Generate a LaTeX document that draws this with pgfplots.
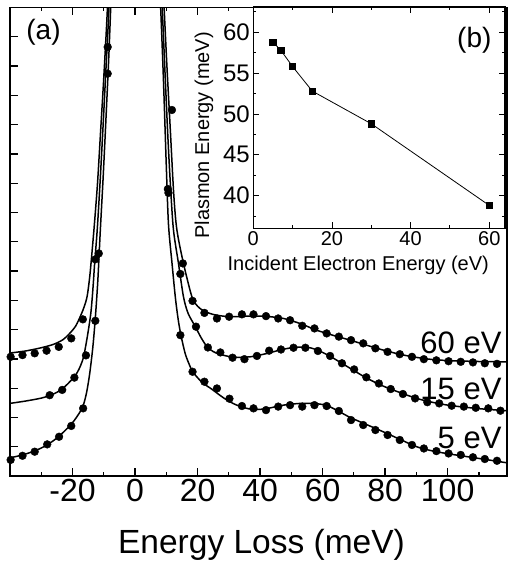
\documentclass[border=0pt]{standalone}
\usepackage{fontspec}
\setmainfont{Liberation Sans}
\usepackage{pgfplots}
\pgfplotsset{compat=1.18}
\newcommand{\fs}[1]{\fontsize{#1}{#1}\selectfont}

\begin{document}
\begin{tikzpicture}
% main panel (a)
\begin{axis}[
    at={(10pt,89pt)}, anchor=south west,
    scale only axis, width=497pt, height=468.5pt,
    xmin=-40, xmax=119, ymin=0, ymax=16,
    xtick={-20,0,...,100}, minor xtick={-30,-10,...,110},
    ytick={1,...,15}, yticklabels={},
    xtick pos=both, ytick pos=left,
    tick align=inside,
    major tick length=8pt, minor tick length=4pt,
    tick style={black, line width=1.3pt},
    axis line style={line width=1.8pt},
    tick label style={font=\fs{32}},
    /pgf/number format/assume math mode=true,
    xlabel={Energy Loss (meV)},
    xlabel style={font=\fs{33.5}, at={(axis description cs:0.506,-0.146)}, anchor=center},
]

% fits, 60 eV
\addplot[black, line width=1.5pt, smooth, no marks] coordinates {
    (-40,4.20) (-35,4.27) (-30,4.38) (-26,4.50) (-23,4.66) (-21,4.86) (-19,5.12)
    (-17.3,5.5) (-16.2,5.8) (-15.3,6.15) (-14.5,6.8) (-13.8,7.6) (-13.0,8.6)
    (-12.0,10.0) (-11.0,11.8) (-10.0,13.6) (-9.0,15.6) (-8.2,17.5)
};
\addplot[black, line width=1.5pt, smooth, no marks] coordinates {
    (8.6,17.5) (9.3,16) (10.2,14) (11.3,11.8) (12.4,9.6) (13.4,8.4) (15.5,7.26)
    (18.2,6.12) (20,5.8) (21.8,5.65) (24,5.55) (26.2,5.49) (30.4,5.44) (36.8,5.46)
    (42,5.45) (47.5,5.38) (53,5.2) (58.1,4.98) (63.5,4.8) (68.8,4.64) (74,4.47)
    (79.4,4.30) (85,4.15) (90.1,4.05) (95,3.98) (100.7,3.94) (110,3.91) (119,3.90)
};
% fits, 15 eV
\addplot[black, line width=1.5pt, smooth, no marks] coordinates {
    (-40,2.48) (-35,2.56) (-30,2.66) (-27,2.76) (-24,2.92) (-21.5,3.15) (-19,3.45)
    (-17.5,3.75) (-16.4,4.1) (-15.2,4.8) (-14.1,5.6) (-13.4,6.5) (-12.9,7.3)
    (-12.1,8.4) (-11.2,10.0) (-10.3,11.8) (-9.4,13.7) (-8.5,15.6) (-7.8,17.5)
};
\addplot[black, line width=1.5pt, smooth, no marks] coordinates {
    (8.1,17.5) (8.7,16) (9.5,14) (10.5,11.6) (11.4,9.8) (12.3,8.4) (13.9,7.26)
    (15.5,6.12) (17,5.55) (19.3,5.1) (21,4.75) (23,4.42) (25,4.25) (27.3,4.15)
    (31.5,4.06) (36.8,4.07) (42,4.18) (47.5,4.33) (52,4.40) (56,4.38) (60,4.22)
    (63.5,4.02) (68.8,3.68) (74,3.35) (79.4,3.07) (85,2.84) (90.1,2.65) (95,2.52)
    (100.7,2.41) (110,2.30) (119,2.23)
};
% fits, 5 eV
\addplot[black, line width=1.5pt, smooth, no marks] coordinates {
    (-40,0.62) (-36,0.72) (-32,0.86) (-28,1.07) (-24.3,1.36) (-20.4,1.77) (-18,2.12)
    (-16.6,2.4) (-15.5,2.85) (-14.5,3.5) (-13.5,4.4) (-12.7,5.4) (-12.0,6.5)
    (-11.6,7.3) (-11.1,8.4) (-10.2,10.2) (-9.3,12.2) (-8.4,14.3) (-7.6,16.5) (-7.2,17.5)
};
\addplot[black, line width=1.5pt, smooth, no marks] coordinates {
    (7.6,17.5) (8.2,16) (9.1,13.5) (10.0,10.6) (10.7,8.6) (11.8,7.3) (12.9,6.1)
    (13.8,5.35) (14.7,4.8) (16,4.2) (17,3.9) (18.4,3.57) (20.5,3.3) (22,3.15)
    (24.1,3.0) (26,2.85) (28.3,2.67) (31.5,2.47) (34.7,2.34) (38,2.27) (42,2.3)
    (47.5,2.42) (53,2.48) (58.1,2.47) (61.5,2.40) (65,2.22) (68.8,2.0) (74,1.76)
    (79.4,1.51) (85,1.24) (90.1,1.00) (95,0.86) (100.7,0.75) (110,0.60) (119,0.45)
};

% measured points
\addplot[only marks, mark=*, mark size=3.9pt, black] coordinates {
    (-39.8,4.07) (-36.0,4.13) (-32.1,4.19) (-28.3,4.28) (-24.4,4.41) (-20.4,4.70)
    (-16.7,5.35) (-8.75,14.65)
    (10.5,9.8) (14.5,6.9) (18.4,5.98) (22.2,5.57) (26.2,5.38) (30.1,5.44) (34.2,5.52)
    (37.9,5.52) (41.9,5.46) (45.8,5.38) (49.6,5.32) (53.5,5.13) (57.4,5.04)
    (61.3,4.87) (65.2,4.76) (69.1,4.64) (73.0,4.53) (76.9,4.36) (80.8,4.24)
    (84.7,4.16) (88.6,4.07) (92.4,3.99) (96.4,3.95) (100.3,3.92) (104.2,3.90)
    (108.1,3.88) (111.9,3.85) (115.8,3.83)
};
\addplot[only marks, mark=*, mark size=3.9pt, black] coordinates {
    (-27.3,2.76) (-23.3,2.94) (-19.4,3.36) (-15.7,4.12) (-12.7,7.4) (-8.75,13.74)
    (11.8,12.5) (15.3,7.26) (19.5,5.10) (23.3,4.39) (27.3,4.22) (31.2,4.04)
    (35.0,3.99) (39.0,4.10) (42.9,4.28) (46.7,4.32) (50.7,4.38) (54.5,4.38)
    (58.5,4.27) (62.4,4.10) (66.2,3.85) (70.1,3.64) (74.0,3.37) (78.0,3.16)
    (81.8,2.97) (85.7,2.80) (89.6,2.65) (93.5,2.52) (97.3,2.48) (101.3,2.40)
    (105.2,2.37) (109.0,2.33) (113.0,2.31) (116.9,2.23)
};
\addplot[only marks, mark=*, mark size=3.9pt, black] coordinates {
    (-39.8,0.55) (-36.0,0.69) (-32.1,0.83) (-28.1,1.08) (-24.3,1.34) (-20.4,1.71)
    (-16.6,2.31) (-12.7,5.3) (-11.6,7.6)
    (10.7,9.67) (14.5,4.81) (18.4,3.56) (22.2,3.22) (26.2,2.99) (30.2,2.64)
    (34.2,2.39) (37.9,2.31) (41.9,2.25) (45.8,2.37) (49.6,2.42) (53.5,2.37)
    (57.4,2.42) (61.3,2.39) (65.2,2.22) (69.1,1.91) (73.0,1.74) (76.9,1.57)
    (80.8,1.40) (84.7,1.23) (88.6,1.06) (92.4,0.94) (96.4,0.85) (100.3,0.77)
    (104.2,0.72) (108.1,0.64) (111.9,0.58) (115.8,0.52)
};

\node[inner sep=0pt, anchor=east] at (axis cs:117.3,4.56) {\fs{31}60 eV};
\node[inner sep=0pt, anchor=east] at (axis cs:117.3,2.97) {\fs{31}15 eV};
\node[inner sep=0pt, anchor=east] at (axis cs:117.3,1.31) {\fs{31}5 eV};
\node at (rel axis cs:0.0674,0.9466) {\fs{28}(a)};
\end{axis}

% inset (b)
\begin{axis}[
    at={(253.3pt,336.7pt)}, anchor=south west,
    scale only axis, width=251.7pt, height=221.3pt,
    xmin=0, xmax=64, ymin=36, ymax=63.1,
    xtick={0,20,40,60}, minor xtick={10,30,50},
    ytick={40,45,...,60}, minor ytick={37.5,42.5,...,62.5},
    tick align=inside, xtick pos=both, ytick pos=both,
    major tick length=6pt, minor tick length=3pt,
    tick style={black, line width=0.9pt},
    axis line style={line width=1.2pt},
    axis background/.style={fill=white},
    x tick label style={font=\fs{20}},
    y tick label style={font=\fs{24}},
    /pgf/number format/assume math mode=true,
    xlabel={Incident Electron Energy (eV)},
    xlabel style={font=\fs{20}, at={(axis description cs:0.417,-0.168)}, anchor=center},
    ylabel={Plasmon Energy (meV)},
    ylabel style={font=\fs{20}, at={(axis description cs:-0.196,0.42)}, anchor=center},
]
\addplot[black, line width=0.8pt, mark=square*, mark size=3.2pt] coordinates {
    (5,58.8) (7,57.8) (10,55.8) (15,52.8) (30,48.8) (60,38.8)
};
\node at (rel axis cs:0.878,0.851) {\fs{28}(b)};
\end{axis}

\pgfresetboundingbox
\path[use as bounding box] (0pt,0pt) rectangle (507pt,565pt);
\end{tikzpicture}
\end{document}
